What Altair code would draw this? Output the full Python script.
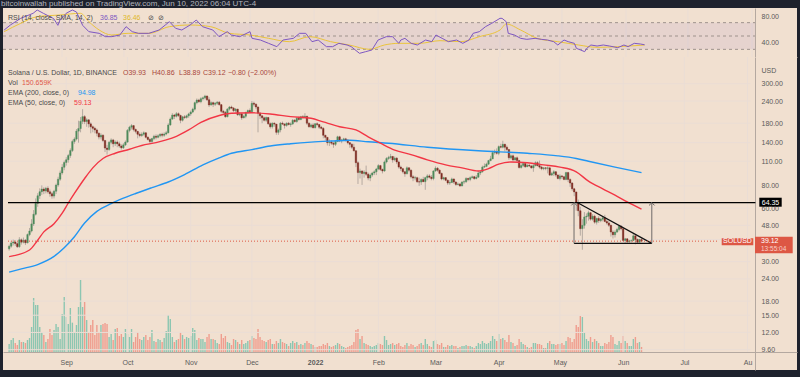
import altair as alt
import pandas as pd

# ------------------------------------------------------------------ data (SOL/USD daily)
first_open = 35.4

close_aug = [36.6, 38.2, 38.7, 37.9, 36.4, 39.8, 38.6, 39.6, 38.3, 42.6, 44.6, 48.9, 55.4, 63.8, 70.4, 74.2, 76.8, 74.9, 77.5, 74.1, 72.3, 70.1, 74.6, 80.8, 87.2, 94.6, 101.8, 108.3]
high_aug = [37.4, 39.0, 39.9, 39.6, 38.8, 41.2, 40.5, 41.0, 40.2, 43.2, 46.4, 52.0, 58.5, 68.0, 72.8, 77.5, 80.5, 78.6, 79.0, 79.6, 76.3, 74.0, 76.0, 82.4, 90.0, 97.5, 106.0, 111.0]
low_aug = [34.6, 35.9, 37.0, 36.8, 35.8, 35.9, 37.4, 38.0, 37.2, 38.0, 41.7, 43.8, 47.6, 54.5, 61.0, 67.6, 71.2, 71.9, 72.6, 72.4, 69.5, 67.8, 68.0, 72.0, 79.0, 85.4, 92.5, 98.0]
vol_aug = [240, 360, 420, 270, 210, 360, 300, 300, 270, 360, 420, 750, 1620, 1410, 1410, 750, 600, 510, 300, 390, 690, 510, 660, 840, 750, 390, 1140, 1650]

close_sep = [112.2, 118.5, 126.4, 142.0, 146.7, 162.5, 168.0, 184.5, 196.0, 184.0, 188.0, 178.5, 172.0, 168.5, 165.0, 158.0, 150.5, 154.0, 144.0, 130.5, 128.0, 140.5, 145.0, 138.0, 141.0, 138.0, 134.0, 131.0, 136.0, 141.0]
high_sep = [116.0, 121.0, 130.0, 145.5, 150.0, 167.0, 186.0, 195.0, 216.0, 200.0, 192.0, 190.0, 182.0, 175.0, 172.0, 168.0, 160.0, 158.0, 156.0, 145.0, 136.0, 143.0, 148.0, 147.0, 144.0, 144.0, 142.0, 137.0, 139.0, 144.0]
low_sep = [104.0, 108.0, 115.0, 124.0, 138.0, 144.0, 140.0, 160.0, 178.0, 178.0, 172.0, 170.0, 158.0, 160.0, 158.0, 152.0, 146.0, 146.0, 141.0, 124.0, 120.0, 126.0, 137.0, 132.0, 134.0, 132.0, 131.0, 128.0, 129.0, 134.0]
vol_sep = [1050, 840, 1320, 880, 600, 810, 1350, 2160, 1350, 1500, 960, 600, 810, 960, 510, 810, 600, 810, 840, 870, 840, 450, 540, 360, 690, 720, 480, 540, 450, 690]

close_oct = [164.0, 171.0, 174.5, 166.0, 162.0, 156.0, 153.5, 156.0, 159.0, 150.0, 146.0, 142.0, 147.5, 152.0, 150.0, 153.0, 156.0, 154.0, 156.5, 159.0, 176.0, 190.0, 200.0, 197.0, 203.5, 199.0, 187.0, 195.5, 194.0, 198.0, 203.0]
high_oct = [167.0, 174.0, 178.0, 176.0, 168.0, 163.0, 160.0, 160.0, 162.0, 160.0, 152.0, 148.0, 149.0, 155.0, 156.0, 156.0, 158.0, 159.0, 160.0, 163.0, 180.0, 194.0, 205.0, 203.0, 208.0, 207.0, 201.0, 198.0, 200.0, 201.0, 206.0]
low_oct = [140.0, 160.0, 166.0, 162.0, 158.0, 148.0, 150.0, 151.0, 153.0, 148.0, 144.0, 138.0, 140.0, 145.0, 146.0, 148.0, 150.0, 150.0, 151.0, 154.0, 158.0, 174.0, 188.0, 190.0, 194.0, 195.0, 180.0, 184.0, 190.0, 191.0, 193.0]
vol_oct = [540, 450, 690, 300, 450, 600, 390, 360, 450, 510, 360, 450, 660, 330, 300, 390, 360, 300, 420, 630, 1110, 990, 450, 300, 360, 390, 600, 510, 390, 450, 420]

close_nov = [208.0, 216.0, 235.0, 243.0, 238.0, 247.5, 250.0, 256.0, 244.0, 228.0, 235.0, 230.0, 233.0, 236.0, 229.0, 210.0, 207.0, 196.0, 216.0, 222.0, 219.0, 212.0, 216.0, 201.0, 203.0, 193.0, 197.0, 207.0, 212.0, 209.0]
high_nov = [212.0, 220.0, 238.0, 248.0, 247.0, 252.0, 254.0, 260.0, 258.0, 252.0, 239.0, 238.0, 237.0, 240.0, 240.0, 230.0, 214.0, 211.0, 219.0, 225.0, 226.0, 222.0, 219.0, 217.0, 208.0, 206.0, 201.0, 209.0, 215.0, 218.0]
low_nov = [198.0, 205.0, 212.0, 230.0, 234.0, 233.0, 242.0, 245.0, 240.0, 222.0, 226.0, 222.0, 225.0, 228.0, 226.0, 205.0, 200.0, 193.0, 194.0, 212.0, 216.0, 208.0, 206.0, 198.0, 197.0, 188.0, 192.0, 192.0, 204.0, 205.0]
vol_nov = [480, 720, 660, 360, 420, 390, 390, 300, 450, 540, 390, 390, 360, 270, 240, 540, 420, 480, 300, 270, 210, 390, 360, 300, 240, 360, 240, 270, 330, 360]

close_dec = [233.0, 230.0, 222.0, 205.0, 198.0, 193.0, 187.0, 194.0, 179.0, 172.0, 180.0, 178.0, 160.0, 165.0, 180.0, 178.0, 175.0, 180.0, 177.0, 178.5, 187.0, 184.0, 192.0, 189.0, 196.0, 194.0, 197.0, 180.0, 172.0, 176.0, 170.0]
high_dec = [240.0, 238.0, 233.0, 224.0, 208.0, 199.0, 196.0, 196.0, 195.0, 182.0, 182.0, 182.0, 178.0, 168.0, 183.0, 184.0, 180.0, 182.0, 183.0, 182.0, 190.0, 190.0, 195.0, 196.0, 198.0, 200.0, 205.0, 198.0, 182.0, 179.0, 180.0]
low_dec = [208.0, 224.0, 216.0, 160.0, 190.0, 180.0, 184.0, 183.0, 176.0, 168.0, 168.0, 172.0, 155.0, 155.0, 160.0, 176.0, 168.0, 172.0, 175.0, 172.0, 176.0, 181.0, 181.0, 186.0, 187.0, 190.0, 192.0, 176.0, 170.0, 169.0, 168.0]
vol_dec = [480, 420, 390, 690, 450, 360, 330, 300, 360, 390, 240, 240, 330, 270, 390, 300, 270, 240, 180, 270, 330, 270, 300, 210, 240, 210, 270, 330, 270, 240, 210]

close_jan = [179.0, 177.0, 171.0, 168.5, 154.0, 150.0, 140.0, 141.0, 139.0, 137.0, 142.0, 151.0, 143.0, 145.0, 147.0, 145.0, 140.0, 137.0, 132.0, 126.0, 108.0, 95.0, 97.0, 94.0, 95.5, 93.0, 88.5, 92.0, 94.5, 96.0, 99.5]
high_jan = [180.0, 182.0, 178.0, 174.0, 171.0, 155.0, 150.0, 146.0, 144.0, 141.0, 144.0, 153.0, 153.0, 147.0, 149.0, 149.0, 146.0, 141.0, 139.0, 138.0, 127.0, 110.0, 100.0, 98.0, 98.0, 104.0, 95.0, 94.0, 96.0, 98.0, 101.0]
low_jan = [168.0, 174.0, 167.0, 166.0, 148.0, 144.0, 135.0, 134.0, 136.0, 131.0, 134.0, 141.0, 141.0, 139.0, 143.0, 142.0, 137.0, 131.0, 129.0, 125.0, 102.0, 82.0, 88.0, 81.0, 89.0, 91.0, 86.0, 85.0, 90.0, 92.0, 92.0]
vol_jan = [150, 150, 180, 180, 240, 210, 270, 180, 150, 180, 210, 270, 240, 180, 150, 120, 150, 180, 210, 300, 660, 690, 390, 480, 270, 240, 210, 180, 150, 180, 210]

close_feb = [104.0, 99.0, 97.0, 109.0, 114.0, 115.5, 117.0, 112.0, 114.5, 109.0, 102.0, 100.0, 96.0, 93.5, 101.0, 98.0, 90.0, 88.5, 89.0, 84.5, 84.0, 87.0, 84.5, 89.0, 91.0, 89.5, 88.0, 97.0]
high_feb = [106.0, 105.0, 100.0, 111.0, 116.0, 118.0, 121.0, 118.0, 117.0, 116.0, 111.0, 104.0, 101.0, 97.0, 103.0, 102.0, 99.0, 92.0, 91.0, 90.0, 89.0, 88.0, 90.0, 90.0, 93.0, 93.0, 92.0, 98.0]
low_feb = [98.0, 97.0, 94.0, 96.0, 107.0, 112.0, 113.0, 108.0, 110.0, 106.0, 100.0, 97.0, 94.0, 90.0, 93.0, 96.0, 88.0, 85.0, 86.0, 83.0, 80.0, 81.0, 84.0, 76.0, 86.0, 88.0, 86.0, 86.0]
vol_feb = [270, 240, 210, 480, 360, 210, 240, 270, 210, 240, 270, 180, 150, 210, 270, 180, 240, 210, 150, 180, 240, 270, 210, 390, 240, 180, 150, 330]

close_mar = [100.5, 98.0, 94.0, 87.5, 89.0, 86.0, 83.0, 83.5, 87.5, 84.0, 81.5, 82.0, 80.0, 84.0, 84.5, 88.0, 87.0, 89.0, 90.0, 88.0, 89.5, 94.5, 96.0, 102.0, 103.0, 106.0, 111.0, 113.5, 123.0, 125.0, 122.0]
high_mar = [103.0, 102.0, 99.0, 95.0, 90.0, 89.5, 87.0, 86.0, 89.0, 88.0, 85.0, 83.5, 83.0, 85.0, 86.0, 89.5, 89.0, 90.5, 91.5, 91.0, 92.0, 97.0, 97.5, 104.0, 107.0, 108.0, 112.0, 118.0, 126.0, 128.0, 130.0]
low_mar = [96.0, 96.0, 93.0, 86.0, 86.0, 85.0, 81.0, 81.0, 83.0, 82.0, 80.0, 80.5, 79.0, 79.5, 82.0, 83.0, 85.0, 85.0, 88.0, 86.5, 87.0, 89.0, 92.0, 95.0, 101.0, 102.0, 105.0, 110.0, 113.0, 120.0, 120.0]
vol_mar = [360, 240, 210, 270, 150, 150, 210, 180, 210, 180, 180, 120, 150, 180, 180, 210, 180, 180, 150, 120, 180, 270, 240, 330, 270, 240, 270, 330, 480, 390, 330]

close_apr = [133.0, 132.0, 137.0, 132.0, 128.0, 115.0, 118.0, 112.0, 115.0, 111.0, 101.5, 104.0, 107.0, 102.5, 104.5, 103.5, 101.0, 104.0, 108.0, 104.0, 102.0, 100.0, 101.0, 100.5, 101.0, 92.0, 94.0, 96.0, 92.0, 88.0]
high_apr = [135.0, 138.0, 143.5, 138.0, 135.0, 129.0, 120.0, 120.0, 116.0, 117.0, 112.0, 107.0, 109.0, 108.0, 106.0, 106.0, 105.0, 106.0, 110.0, 110.0, 111.0, 104.0, 102.0, 102.0, 103.0, 102.0, 96.0, 98.0, 97.0, 93.0]
low_apr = [119.0, 130.0, 130.0, 125.0, 126.0, 112.0, 113.0, 110.0, 111.0, 109.0, 100.0, 100.0, 102.0, 101.0, 102.0, 102.0, 100.0, 96.0, 103.0, 103.0, 100.0, 98.0, 98.0, 98.0, 94.0, 91.0, 91.0, 91.0, 90.0, 87.0]
vol_apr = [540, 390, 420, 360, 300, 510, 300, 270, 180, 210, 390, 300, 240, 210, 150, 120, 150, 270, 270, 240, 240, 210, 120, 120, 270, 330, 240, 240, 210, 240]

close_may = [91.0, 90.0, 87.0, 95.0, 87.0, 83.0, 77.0, 74.0, 64.5, 58.0, 46.0, 48.0, 53.5, 54.0, 56.5, 52.0, 54.0, 50.0, 52.5, 51.0, 52.0, 53.0, 50.5, 49.5, 48.0, 44.0, 42.5, 44.0, 45.5, 47.5, 46.0]
high_may = [93.0, 92.0, 91.0, 96.0, 96.0, 88.0, 84.0, 78.0, 74.0, 67.0, 61.0, 52.0, 57.0, 56.0, 58.0, 57.0, 55.5, 55.0, 53.0, 54.0, 53.0, 54.0, 55.0, 52.0, 51.0, 48.5, 45.0, 45.0, 46.5, 48.0, 48.0]
low_may = [86.0, 87.5, 86.0, 86.0, 84.0, 79.0, 75.0, 70.0, 58.0, 54.0, 42.0, 35.0, 46.0, 49.0, 51.0, 51.0, 51.0, 49.0, 48.5, 49.5, 50.0, 50.5, 50.0, 48.5, 47.0, 41.5, 40.5, 41.0, 43.5, 44.5, 45.0]
vol_may = [240, 270, 210, 330, 450, 420, 300, 390, 810, 750, 1080, 1050, 600, 390, 330, 450, 300, 390, 330, 270, 180, 180, 270, 240, 300, 510, 450, 240, 210, 330, 270]

close_jun = [39.5, 40.3, 38.8, 39.3, 39.4, 41.9, 40.0, 38.6, 39.93, 39.12]
high_jun = [46.5, 40.8, 40.6, 39.8, 40.0, 43.5, 42.5, 40.5, 40.3, 40.86]
low_jun = [39.0, 38.0, 38.2, 38.3, 38.5, 39.3, 37.5, 38.2, 38.5, 38.89]
vol_jun = [480, 330, 270, 180, 180, 390, 450, 270, 300, 151]

# EMA lines (read at intervals from the picture)
ema200_dates = ["2021-08-04", "2021-08-10", "2021-08-18", "2021-08-26", "2021-08-31", "2021-09-05", "2021-09-10", "2021-09-16", "2021-09-23", "2021-09-29", "2021-10-05", "2021-10-13", "2021-10-21", "2021-10-29", "2021-11-07", "2021-11-15", "2021-11-21", "2021-12-01", "2021-12-10", "2021-12-20", "2021-12-30", "2022-01-09", "2022-01-18", "2022-01-27", "2022-02-06", "2022-02-25", "2022-03-22", "2022-04-15", "2022-04-30", "2022-05-09", "2022-05-15", "2022-05-28", "2022-06-10"]
ema200_vals = [26.2, 27.3, 28.9, 32.1, 35.9, 41.4, 49.5, 57.5, 63.6, 68.2, 72.5, 78.2, 84.1, 92.6, 105.0, 115.0, 122.0, 128.0, 134.0, 138.0, 141.0, 143.0, 144.5, 141.5, 139.0, 132.0, 126.0, 122.0, 118.0, 114.0, 110.0, 102.0, 94.98]

ema50_dates = ["2021-08-04", "2021-08-14", "2021-08-18", "2021-08-21", "2021-08-26", "2021-08-30", "2021-09-02", "2021-09-05", "2021-09-10", "2021-09-14", "2021-09-19", "2021-09-25", "2021-10-02", "2021-10-08", "2021-10-15", "2021-10-20", "2021-10-25", "2021-10-31", "2021-11-06", "2021-11-15", "2021-11-21", "2021-12-01", "2021-12-10", "2021-12-20", "2021-12-30", "2022-01-05", "2022-01-13", "2022-01-21", "2022-01-27", "2022-02-02", "2022-02-09", "2022-02-17", "2022-02-25", "2022-03-06", "2022-03-14", "2022-03-22", "2022-03-27", "2022-04-01", "2022-04-07", "2022-04-15", "2022-04-23", "2022-05-01", "2022-05-09", "2022-05-15", "2022-05-22", "2022-05-28", "2022-06-03", "2022-06-10"]
ema50_vals = [32.0, 34.9, 39.6, 44.1, 49.0, 56.2, 64.1, 72.5, 88.0, 101.0, 114.0, 122.0, 128.5, 135.0, 140.0, 145.0, 152.0, 165.0, 182.0, 199.0, 205.0, 206.0, 203.0, 196.0, 192.0, 183.0, 172.0, 165.0, 151.0, 139.0, 127.0, 120.0, 112.0, 105.0, 101.0, 97.0, 100.0, 106.0, 109.0, 108.0, 105.0, 102.0, 96.0, 85.0, 77.0, 71.0, 65.0, 59.13]

# RSI (14) and its SMA
rsi_dates = ["2021-08-04", "2021-08-07", "2021-08-12", "2021-08-18", "2021-08-20", "2021-08-23", "2021-08-28", "2021-08-30", "2021-08-31", "2021-09-03", "2021-09-06", "2021-09-08", "2021-09-11", "2021-09-14", "2021-09-19", "2021-09-22", "2021-09-25", "2021-09-29", "2021-10-02", "2021-10-05", "2021-10-08", "2021-10-13", "2021-10-18", "2021-10-21", "2021-10-23", "2021-10-26", "2021-10-29", "2021-11-02", "2021-11-05", "2021-11-08", "2021-11-13", "2021-11-16", "2021-11-20", "2021-11-22", "2021-11-26", "2021-12-01", "2021-12-02", "2021-12-06", "2021-12-10", "2021-12-14", "2021-12-17", "2021-12-22", "2021-12-25", "2021-12-28", "2021-12-31", "2022-01-03", "2022-01-07", "2022-01-10", "2022-01-13", "2022-01-17", "2022-01-19", "2022-01-23", "2022-01-26", "2022-01-29", "2022-02-01", "2022-02-05", "2022-02-08", "2022-02-11", "2022-02-12", "2022-02-14", "2022-02-17", "2022-02-20", "2022-02-24", "2022-02-27", "2022-03-01", "2022-03-04", "2022-03-07", "2022-03-11", "2022-03-14", "2022-03-17", "2022-03-19", "2022-03-22", "2022-03-25", "2022-03-28", "2022-04-01", "2022-04-02", "2022-04-04", "2022-04-05", "2022-04-08", "2022-04-11", "2022-04-14", "2022-04-18", "2022-04-21", "2022-04-24", "2022-04-27", "2022-04-29", "2022-05-02", "2022-05-04", "2022-05-07", "2022-05-08", "2022-05-10", "2022-05-12", "2022-05-13", "2022-05-15", "2022-05-18", "2022-05-21", "2022-05-24", "2022-05-28", "2022-05-31", "2022-06-02", "2022-06-05", "2022-06-08", "2022-06-10"]
rsi_vals = [59, 66.5, 76.5, 84, 89, 84, 76, 66, 74, 84, 89, 86, 66, 56.5, 54, 49, 49, 51.5, 64, 56.5, 54, 54, 59, 66.5, 71.5, 61.5, 59, 66.5, 74, 64, 59, 49, 56.5, 51.5, 49, 56.5, 46.5, 44, 39, 34, 44, 46.5, 54, 54, 41.5, 44, 34, 34, 39, 36.5, 34, 24, 26.5, 29, 44, 49, 49, 39, 44, 46.5, 39, 36.5, 44, 41.5, 51.5, 46.5, 41.5, 44, 39, 44, 54, 56.5, 64, 69, 76.5, 76.5, 71.5, 54, 51.5, 46.5, 45, 46.5, 45, 44, 41.5, 36.5, 44, 41.5, 39, 31.5, 29, 26.5, 31.5, 36.5, 35, 36.5, 35, 32.5, 36.5, 34, 39, 38, 36.85]

rsima_dates = ["2021-08-04", "2021-08-12", "2021-08-20", "2021-08-31", "2021-09-10", "2021-09-14", "2021-09-19", "2021-09-25", "2021-10-03", "2021-10-13", "2021-10-23", "2021-11-02", "2021-11-12", "2021-11-21", "2021-12-01", "2021-12-10", "2021-12-20", "2021-12-30", "2022-01-09", "2022-01-18", "2022-01-28", "2022-02-04", "2022-02-11", "2022-02-21", "2022-03-03", "2022-03-13", "2022-03-22", "2022-04-01", "2022-04-04", "2022-04-11", "2022-04-19", "2022-04-29", "2022-05-09", "2022-05-18", "2022-05-28", "2022-06-10"]
rsima_vals = [56.5, 69, 79, 81.5, 84, 71.5, 59, 51.5, 54, 54, 64, 66.5, 64, 54, 51.5, 46.5, 41.5, 49, 41.5, 36.5, 30, 36.5, 39, 39, 43, 41.5, 49, 59, 68, 59, 46.5, 41.5, 36.5, 33, 34, 36.46]

price_ticks = [9.6, 12, 15, 18, 24, 30, 40, 48, 60, 80, 110, 140, 180, 240, 300]
month_ticks = ["2021-09-01", "2021-10-01", "2021-11-01", "2021-12-01", "2022-01-01", "2022-02-01", "2022-03-01", "2022-04-01", "2022-05-01", "2022-06-01", "2022-07-01", "2022-08-01"]

# ------------------------------------------------------------------ frames
closes = close_aug + close_sep + close_oct + close_nov + close_dec + close_jan + close_feb + close_mar + close_apr + close_may + close_jun
highs = high_aug + high_sep + high_oct + high_nov + high_dec + high_jan + high_feb + high_mar + high_apr + high_may + high_jun
lows = low_aug + low_sep + low_oct + low_nov + low_dec + low_jan + low_feb + low_mar + low_apr + low_may + low_jun
vols = vol_aug + vol_sep + vol_oct + vol_nov + vol_dec + vol_jan + vol_feb + vol_mar + vol_apr + vol_may + vol_jun
opens = [first_open] + closes[:-1]
dates = pd.date_range("2021-08-04", periods=len(closes), freq="D").strftime("%Y-%m-%d").tolist()

candles = pd.DataFrame({"date": dates, "open": opens, "high": highs, "low": lows, "close": closes, "vol": vols})
candles["dir"] = ["up" if c >= o else "down" for o, c in zip(opens, closes)]

ema200 = pd.DataFrame({"date": ema200_dates, "v": ema200_vals})
ema50 = pd.DataFrame({"date": ema50_dates, "v": ema50_vals})
rsi = pd.DataFrame({"date": rsi_dates, "v": rsi_vals})
rsima = pd.DataFrame({"date": rsima_dates, "v": rsima_vals})

# ------------------------------------------------------------------ style / scales
FONT = "Liberation Sans"
BG = "#F1E0D0"
FRAME = "#1E222D"
GRID = "#EADDD5"
AXLINE = "#B4A8A0"
AXLBL = "#5A5A5A"
TXT = "#4A4A4A"
UP, DOWN, WICK = "#4E8A5C", "#7F2C22", "#A69C95"
VOL_UP, VOL_DOWN = "#8CC6B1", "#EF9D8E"
EMA50_C, EMA200_C = "#F23645", "#2196F3"
RSI_C, RSIMA_C = "#7E57C2", "#EBC43A"
LBL_RED = "#DD5744"

W, H_RSI, H_MAIN = 794, 49, 313
X_START = "2021-08-03T10:30:00Z"
X_END = "2022-08-22T18:30:00Z"
X_AXISLINE = "2022-08-02T10:30:00Z"


def ms(s):
    return int(pd.Timestamp(s).value // 10**6)


XS = alt.Scale(type="utc", domain=[ms(X_START), ms(X_END)])
YS = alt.Scale(type="log", domain=[7.38, 424.2], nice=False)
VS = alt.Scale(domain=[-540, 8850], nice=False, zero=False)
RS = alt.Scale(domain=[18.5, 92], nice=False, zero=False)

month_vals = [alt.DateTime(year=int(m[:4]), month=int(m[5:7]), date=1, utc=True) for m in month_ticks]
XAX = alt.Axis(orient="bottom", offset=-18, values=month_vals,
               labelExpr="utcFormat(datum.value, '%m') == '01' ? utcFormat(datum.value, '%Y') : (utcFormat(datum.value, '%Y-%m') == '2022-08' ? 'Au' : utcFormat(datum.value, '%b'))",
               labelFontWeight={"condition": {"test": "utcFormat(datum.value, '%m') == '01'", "value": "bold"}, "value": "normal"},
               labelFont=FONT, labelFontSize=7, labelColor=AXLBL, labelPadding=6, ticks=False, tickSize=0,
               domain=True, domainColor=AXLINE, domainWidth=1, grid=False, title=None,
               labelOverlap=False, labelFlush=False)
XAX_R = alt.Axis(orient="bottom", labels=False, ticks=False, tickSize=0, domain=True, domainColor=AXLINE,
                 domainWidth=1, grid=False, title=None)
YAX = alt.Axis(orient="right", offset=-42, values=price_ticks, format=".2f", grid=False, ticks=False, tickSize=0,
               domain=True, domainColor=AXLINE, domainWidth=1, labelFont=FONT, labelFontSize=7, labelColor=AXLBL,
               labelPadding=6, labelOverlap=False, labelFlush=False, title="USD", titleAngle=0, titleX=6,
               titleY=13.7, titleAlign="left", titleBaseline="middle", titleFont=FONT, titleFontSize=7,
               titleFontWeight="normal", titleColor=AXLBL)
YAX_R = alt.Axis(orient="right", offset=-42, values=[40, 80], format=".2f", grid=False, ticks=False, tickSize=0,
                 domain=True, domainColor=AXLINE, domainWidth=1, labelFont=FONT, labelFontSize=7,
                 labelColor=AXLBL, labelPadding=6, labelOverlap=False, labelFlush=False, title=None)


def X(f, ax=XAX):
    return alt.X(f, type="temporal", scale=XS, axis=ax)


def Y(f):
    return alt.Y(f, type="quantitative", scale=YS, axis=YAX)


def YR(f):
    return alt.Y(f, type="quantitative", scale=RS, axis=YAX_R)


def txt(s, x, y, color, size=7, align="left", font=FONT, weight="normal", baseline="middle"):
    return alt.Chart(pd.DataFrame({"t": [s]})).mark_text(
        align=align, baseline=baseline, color=color, fontSize=size, font=font, fontWeight=weight
    ).encode(x=alt.value(x), y=alt.value(y), text="t:N")


# ------------------------------------------------------------------ RSI pane
rsi_grid = alt.Chart(pd.DataFrame({"m": month_ticks})).mark_rule(color=GRID, strokeWidth=1).encode(x=X("m", XAX_R))
band = alt.Chart(pd.DataFrame({"x0": [X_START], "x1": [X_AXISLINE], "lo": [30], "hi": [70]})).mark_rect(
    color=RSI_C, opacity=0.09).encode(x=X("x0", XAX_R), x2="x1:T", y=YR("hi"), y2="lo:Q")
levels = alt.Chart(pd.DataFrame({"lvl": [70, 50, 30], "x0": X_START, "x1": X_AXISLINE})).mark_rule(
    color="#9E928C", strokeWidth=1, strokeDash=[3, 3]).encode(x=X("x0", XAX_R), x2="x1:T", y=YR("lvl"))
rsi_line = alt.Chart(rsi).mark_line(color=RSI_C, strokeWidth=1).encode(x=X("date", XAX_R), y=YR("v"))
rsima_line = alt.Chart(rsima).mark_line(color=RSIMA_C, strokeWidth=1, interpolate="monotone").encode(
    x=X("date", XAX_R), y=YR("v"))

rsi_pane = alt.layer(
    rsi_grid, band, levels, rsima_line, rsi_line,
    txt("RSI (14, close, SMA, 14, 2)", 5, 10.3, TXT),
    txt("36.85", 97, 10.3, RSI_C),
    txt("36.46", 120, 10.3, "#E0B82A"),
    txt("⊘", 145, 10.3, TXT, font="DejaVu Sans"),
    txt("⊘", 155, 10.3, TXT, font="DejaVu Sans"),
    txt("bitcoinwallah published on TradingView.com, Jun 10, 2022 06:04 UTC-4", -2, -8, "#B2B5BE", size=8,
        baseline="top"),
).properties(width=W, height=H_RSI)

# ------------------------------------------------------------------ main pane
hgrid = alt.Chart(pd.DataFrame({"p": price_ticks, "x0": X_START, "x1": X_AXISLINE})).mark_rule(
    color=GRID, strokeWidth=1).encode(x=X("x0"), x2="x1:T", y=Y("p"))
vgrid = alt.Chart(pd.DataFrame({"m": month_ticks, "ptop": 424.2, "pbot": 9.32})).mark_rule(
    color=GRID, strokeWidth=1).encode(x=X("m"), y=Y("ptop"), y2="pbot:Q")

vol = alt.Chart(candles).mark_bar(width=1.4).encode(
    x=X("date"),
    y=alt.Y("vol:Q", scale=VS, axis=None),
    y2=alt.Y2Datum(0),
    color=alt.Color("dir:N", scale=alt.Scale(domain=["up", "down"], range=[VOL_UP, VOL_DOWN]), legend=None),
)

wicks = alt.Chart(candles).mark_rule(color=WICK, strokeWidth=0.8).encode(x=X("date"), y=Y("low"), y2="high:Q")
bodies = alt.Chart(candles).mark_bar(width=1.5, strokeWidth=0.4).encode(
    x=X("date"), y=Y("open"), y2="close:Q",
    fill=alt.Fill("dir:N", scale=alt.Scale(domain=["up", "down"], range=[UP, DOWN]), legend=None),
    stroke=alt.Stroke("dir:N", scale=alt.Scale(domain=["up", "down"], range=[UP, DOWN]), legend=None),
)
ema200_line = alt.Chart(ema200).mark_line(color=EMA200_C, strokeWidth=1.4, interpolate="monotone").encode(
    x=X("date"), y=Y("v"))
ema50_line = alt.Chart(ema50).mark_line(color=EMA50_C, strokeWidth=1.4, interpolate="monotone").encode(
    x=X("date"), y=Y("v"))

level_line = alt.Chart(pd.DataFrame({"x0": [X_START], "x1": ["2022-08-04T20:00:00Z"], "p": [64.35]})).mark_rule(
    color="#000000", strokeWidth=1.3).encode(x=X("x0"), x2="x1:T", y=Y("p"))

tri = pd.DataFrame({
    "x0": ["2022-05-07T22:00:00Z", "2022-05-09T17:00:00Z"],
    "x1": ["2022-06-15T01:00:00Z", "2022-06-15T01:00:00Z"],
    "p0": [38.0, 64.35],
    "p1": [38.0, 38.0],
})
tri_lines = alt.Chart(tri).mark_rule(color="#111111", strokeWidth=1.2).encode(
    x=X("x0"), x2="x1:T", y=Y("p0"), y2="p1:Q")
arrows = pd.DataFrame({"x": ["2022-05-07T22:00:00Z", "2022-06-15T01:00:00Z"], "p0": [38.0, 38.0], "p1": [64.35, 64.35]})
arrow_lines = alt.Chart(arrows).mark_rule(color="#6E6A68", strokeWidth=1).encode(x=X("x"), y=Y("p0"), y2="p1:Q")
arrow_heads = alt.Chart(arrows).mark_point(shape="M-1,1L0,0L1,1", filled=False, size=30, color="#6E6A68",
                                           strokeWidth=1, opacity=1).encode(x=X("x"), y=Y("p1"))

cur_line = alt.Chart(pd.DataFrame({"x0": [X_START], "x1": ["2022-07-17T08:00:00Z"], "p": [39.12]})).mark_rule(
    color=LBL_RED, strokeWidth=1, strokeDash=[1, 2]).encode(x=X("x0"), x2="x1:T", y=Y("p"))

boxes = pd.DataFrame({
    "x0": [718.7, 752.0, 756.3],
    "x1": [750.3, 789.7, 778.7],
    "p0": [40.6, 41.44, 68.64],
    "p1": [37.07, 33.43, 61.1],
    "c": [LBL_RED, LBL_RED, "#000000"],
})
box_layers = [
    alt.Chart(boxes.iloc[[i]]).mark_rect(color=boxes["c"][i]).encode(
        x=alt.value(float(boxes["x0"][i])), x2=alt.value(float(boxes["x1"][i])), y=Y("p0"), y2="p1:Q")
    for i in range(len(boxes))
]


def ptxt(s, x, p, color, size=7, align="left"):
    return alt.Chart(pd.DataFrame({"t": [s], "p": [p]})).mark_text(
        align=align, baseline="middle", color=color, fontSize=size, font=FONT
    ).encode(x=alt.value(x), y=Y("p"), text="t:N")


price_layer = alt.layer(
    hgrid, vgrid, wicks, bodies, ema200_line, ema50_line, level_line, tri_lines, arrow_lines, arrow_heads,
    cur_line, *box_layers,
    ptxt("SOLUSD", 734.5, 39.12, "#FFFFFF", align="center"),
    ptxt("39.12", 758, 39.12, "#FFFFFF"),
    ptxt("13:55:04", 758, 35.3, "#F8D0C8", size=6.5),
    ptxt("64.35", 767.5, 64.35, "#FFFFFF", align="center"),
    txt("Solana / U.S. Dollar, 1D, BINANCE", 5, 16.3, TXT),
    txt("O39.93", 120, 16.3, "#A8463B"),
    txt("H40.86", 149, 16.3, "#A8463B"),
    txt("L38.89", 176, 16.3, "#A8463B"),
    txt("C39.12", 200, 16.3, "#A8463B"),
    txt("\u22120.80 (\u22122.00%)", 225, 16.3, "#A8463B"),
    txt("Vol", 5, 26.3, TXT),
    txt("150.659K", 19, 26.3, "#E05A4A"),
    txt("EMA (200, close, 0)", 5, 36.3, TXT),
    txt("94.98", 75, 36.3, EMA200_C),
    txt("EMA (50, close, 0)", 5, 45.7, TXT),
    txt("59.13", 71, 45.7, EMA50_C),
)

main_pane = alt.layer(vol, price_layer).resolve_scale(y="independent").properties(width=W, height=H_MAIN)

chart = alt.vconcat(rsi_pane, main_pane, spacing=0, bounds="flush").resolve_scale(
    x="independent", y="independent"
).properties(
    background=FRAME,
    padding={"left": 1, "top": 0, "right": 3, "bottom": 7},
    autosize=alt.AutoSizeParams(type="pad"),
).configure(font=FONT).configure_view(fill=BG, strokeWidth=0)

chart.save("out.html", embed_options={"renderer": "svg", "actions": False})
